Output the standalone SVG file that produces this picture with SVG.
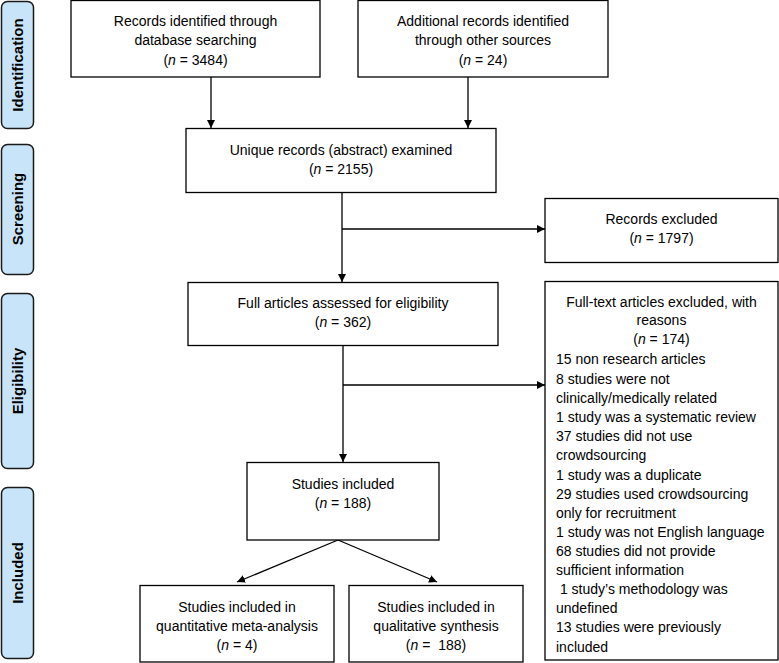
<svg xmlns="http://www.w3.org/2000/svg" width="779" height="663" viewBox="0 0 779 663">
<defs>
<marker id="ah" viewBox="0 0 10 10" refX="10" refY="5" markerWidth="8" markerHeight="8" markerUnits="userSpaceOnUse" orient="auto">
<path d="M0,0 L10,5 L0,10 z" fill="#000"/>
</marker>
<style>
.box{fill:#fff;stroke:#000;stroke-width:1.3}
.side{fill:#c8e4f8;stroke:#1a1a1a;stroke-width:1.5}
.t{font-family:"Liberation Sans",Arial,sans-serif;font-size:14px;fill:#000;text-anchor:middle}
.l{font-family:"Liberation Sans",Arial,sans-serif;font-size:14px;fill:#000}
.s{font-family:"Liberation Sans",Arial,sans-serif;font-size:15px;font-weight:bold;fill:#000;text-anchor:middle}
.c{fill:none;stroke:#000;stroke-width:1.3}
</style>
</defs>
<rect width="779" height="663" fill="#fff"/>
<g id="side-identification"><rect class="side" x="1.5" y="1.5" width="32" height="127" rx="6"/><text class="s" transform="translate(23,65) rotate(-90)">Identification</text></g>
<g id="side-screening"><rect class="side" x="1.5" y="144.5" width="32" height="130" rx="6"/><text class="s" transform="translate(23,209) rotate(-90)">Screening</text></g>
<g id="side-eligibility"><rect class="side" x="1.5" y="293.5" width="32" height="175" rx="6"/><text class="s" transform="translate(23,381) rotate(-90)">Eligibility</text></g>
<g id="side-included"><rect class="side" x="1.5" y="487.5" width="32" height="171" rx="6"/><text class="s" transform="translate(23,573) rotate(-90)">Included</text></g>

<g id="connectors">
<line class="c" x1="211" y1="77" x2="211" y2="128" marker-end="url(#ah)"/>
<line class="c" x1="468" y1="77" x2="468" y2="128" marker-end="url(#ah)"/>
<line class="c" x1="342" y1="192" x2="342" y2="282" marker-end="url(#ah)"/>
<line class="c" x1="342" y1="229" x2="545" y2="229" marker-end="url(#ah)"/>
<line class="c" x1="343" y1="346" x2="343" y2="462" marker-end="url(#ah)"/>
<line class="c" x1="343" y1="385" x2="545" y2="385" marker-end="url(#ah)"/>
<line class="c" x1="338" y1="540" x2="237" y2="582" marker-end="url(#ah)"/>
<line class="c" x1="338" y1="540" x2="437" y2="582" marker-end="url(#ah)"/>
</g>

<g id="box-db"><rect class="box" x="71" y="0.5" width="249" height="76.5"/>
<text class="t" x="195.5" y="26">Records identified through</text>
<text class="t" x="195.5" y="45">database searching</text>
<text class="t" x="195.5" y="65">(<tspan font-style="italic">n</tspan> = 3484)</text></g>

<g id="box-other"><rect class="box" x="358" y="0.5" width="250" height="76.5"/>
<text class="t" x="483" y="26">Additional records identified</text>
<text class="t" x="483" y="45">through other sources</text>
<text class="t" x="483" y="65">(<tspan font-style="italic">n</tspan> = 24)</text></g>

<g id="box-unique"><rect class="box" x="186" y="128.5" width="310" height="64"/>
<text class="t" x="341" y="155">Unique records (abstract) examined</text>
<text class="t" x="341" y="174">(<tspan font-style="italic">n</tspan> = 2155)</text></g>

<g id="box-rexcl"><rect class="box" x="545" y="198.5" width="233" height="64"/>
<text class="t" x="661.5" y="224">Records excluded</text>
<text class="t" x="661.5" y="243">(<tspan font-style="italic">n</tspan> = 1797)</text></g>

<g id="box-full"><rect class="box" x="188" y="282.5" width="310" height="63"/>
<text class="t" x="343" y="308">Full articles assessed for eligibility</text>
<text class="t" x="343" y="327">(<tspan font-style="italic">n</tspan> = 362)</text></g>

<g id="box-fexcl"><rect class="box" x="545" y="281.5" width="233" height="378.5"/>
<text class="t" x="661.5" y="307">Full-text articles excluded, with</text>
<text class="t" x="661.5" y="325">reasons</text>
<text class="t" x="661.5" y="344">(<tspan font-style="italic">n</tspan> =  174)</text>
<text class="l" x="556" y="364">15 non research articles</text>
<text class="l" x="556" y="384">8 studies were not</text>
<text class="l" x="556" y="403">clinically/medically related</text>
<text class="l" x="556" y="422">1 study was a systematic review</text>
<text class="l" x="556" y="441">37 studies did not use</text>
<text class="l" x="556" y="460">crowdsourcing</text>
<text class="l" x="556" y="480">1 study was a duplicate</text>
<text class="l" x="556" y="499">29 studies used crowdsourcing</text>
<text class="l" x="556" y="518">only for recruitment</text>
<text class="l" x="556" y="537">1 study was not English language</text>
<text class="l" x="556" y="556">68 studies did not provide</text>
<text class="l" x="556" y="575">sufficient information</text>
<text class="l" x="556" y="594" xml:space="preserve"> 1 study’s methodology was</text>
<text class="l" x="556" y="613">undefined</text>
<text class="l" x="556" y="632">13 studies were previously</text>
<text class="l" x="556" y="652">included</text></g>

<g id="box-incl"><rect class="box" x="247" y="462.5" width="192" height="77.5"/>
<text class="t" x="343" y="489">Studies included</text>
<text class="t" x="343" y="508">(<tspan font-style="italic">n</tspan> = 188)</text></g>

<g id="box-quant"><rect class="box" x="140" y="585.5" width="194" height="76.5"/>
<text class="t" x="237" y="612">Studies included in</text>
<text class="t" x="237" y="631">quantitative meta-analysis</text>
<text class="t" x="237" y="650">(<tspan font-style="italic">n</tspan> = 4)</text></g>

<g id="box-qual"><rect class="box" x="349" y="585.5" width="174" height="76.5"/>
<text class="t" x="436" y="612">Studies included in</text>
<text class="t" x="436" y="631">qualitative synthesis</text>
<text class="t" x="436" y="650" xml:space="preserve">(<tspan font-style="italic">n</tspan> =  188)</text></g>
</svg>
